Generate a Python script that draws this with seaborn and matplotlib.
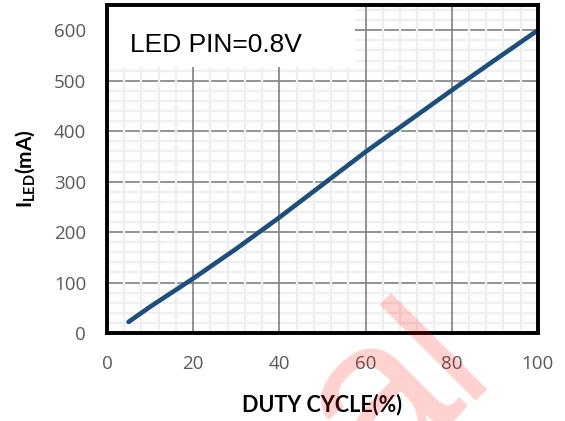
import matplotlib
matplotlib.use("Agg")
import matplotlib.pyplot as plt
import seaborn as sns
from matplotlib.patches import Rectangle
from matplotlib.ticker import MultipleLocator
from pandas import DataFrame


# ── Data ──────────────────────────────────────────────────────────────────────
duty_cycle = [5, 10, 20, 30, 40, 50, 60, 70, 80, 90, 100]          # %
led_current = [22, 52, 108, 167, 229, 294, 359, 420, 481, 541, 600]  # mA

x_ticks = [0, 20, 40, 60, 80, 100]
y_ticks = [0, 100, 200, 300, 400, 500, 600]

LINE_COLOR = "#1f4e79"
MAJOR_GRID = "#808080"
MINOR_GRID = "#efefef"
TICK_COLOR = "#595959"
ARIAL = ["Liberation Sans", "DejaVu Sans"]

sns.set_theme(style="white")
plt.rcParams["font.family"] = ["Lato", "DejaVu Sans"]
plt.rcParams["mathtext.fontset"] = "custom"
plt.rcParams["mathtext.rm"] = "Lato"
plt.rcParams["mathtext.bf"] = "Lato:bold"

df = DataFrame({"duty": duty_cycle, "current": led_current})

fig = plt.figure(figsize=(5.65, 4.21), dpi=100)
ax = fig.add_axes([0.1894, 0.209, 0.7626, 0.779])

sns.lineplot(data=df, x="duty", y="current", ax=ax,
             color=LINE_COLOR, linewidth=3.3, zorder=4,
             solid_capstyle="round", solid_joinstyle="round")

ax.set_xlim(0, 100)
ax.set_ylim(0, 650)
ax.set_xticks(x_ticks)
ax.set_yticks(y_ticks)
ax.xaxis.set_minor_locator(MultipleLocator(4))
ax.yaxis.set_minor_locator(MultipleLocator(20))

# ── Grid ──────────────────────────────────────────────────────────────────────
# Horizontal lines are drawn first; the light vertical minors then cut the
# horizontal majors into dashes, and the vertical majors stay solid on top.
ax.set_axisbelow(True)
ax.grid(which="minor", axis="both", color=MINOR_GRID, linewidth=1.7)
ax.grid(which="major", axis="both", color=MAJOR_GRID, linewidth=1.2)
ax.yaxis.set_zorder(0.5)
ax.xaxis.set_zorder(0.6)

ax.tick_params(which="both", length=0)
ax.tick_params(axis="x", pad=16, labelsize=13.5, labelcolor=TICK_COLOR)
ax.tick_params(axis="y", pad=15, labelsize=13.5, labelcolor=TICK_COLOR)
for lbl in ax.get_xticklabels() + ax.get_yticklabels():
    lbl.set_family(["Open Sans", "DejaVu Sans"])

for side in ["top", "right", "bottom", "left"]:
    ax.spines[side].set_visible(True)
    ax.spines[side].set_color("black")
    ax.spines[side].set_linewidth(2.8)
    ax.spines[side].set_zorder(5)

ax.set_xlabel("DUTY CYCLE(%)", fontsize=15.5, fontweight="bold",
              color="black", labelpad=15)
ax.set_ylabel(r"$\mathbf{I_{LED}}$(mA)", fontsize=15, fontweight="bold",
              color="black", labelpad=12)

# White label box in the top-left corner of the plot area
ax.add_patch(Rectangle((0, 0.811), 0.575, 0.2, transform=ax.transAxes,
                       facecolor="white", edgecolor="none", zorder=2))
ax.text(0.053, 0.857, "LED PIN=0.8V", transform=ax.transAxes,
        fontsize=19, family=ARIAL, color="black", zorder=3)

# Watermark fragment ("a", "l") cut by the bottom edge of the picture
for glyph, fx, fy, size in [("a", 0.669, -0.155, 160),
                            ("l", 0.820, 0.048, 135)]:
    fig.text(fx, fy, glyph, rotation=45, rotation_mode="anchor",
             ha="left", va="baseline", fontsize=size, family=ARIAL,
             color="red", alpha=0.18, zorder=10)

fig.savefig("out.png", dpi=100)
